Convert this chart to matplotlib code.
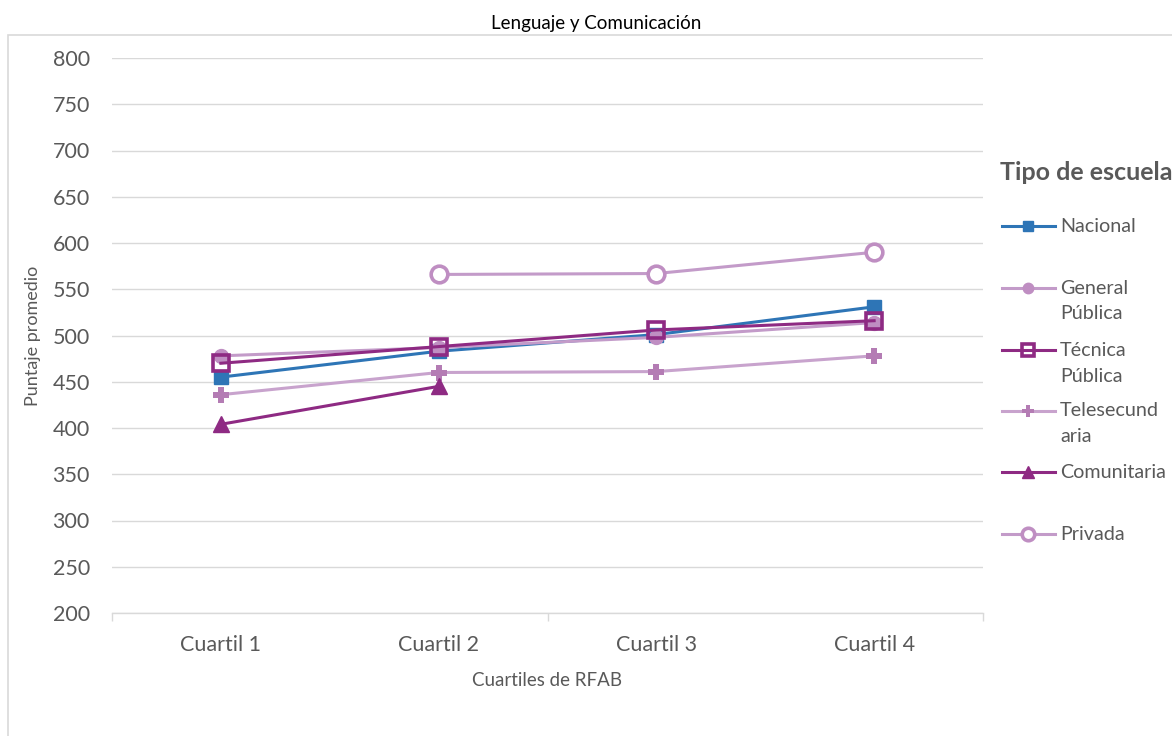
import numpy as np
import matplotlib
matplotlib.use("Agg")
import matplotlib.pyplot as plt
from matplotlib.lines import Line2D
from matplotlib.patches import Rectangle

plt.rcParams['font.family'] = ['Lato', 'DejaVu Sans']

# data
cuartiles = ['Cuartil 1', 'Cuartil 2', 'Cuartil 3', 'Cuartil 4']
nacional = [455, 483, 501, 531]
general_publica = [478, 487, 498, 514]
tecnica_publica = [470, 488, 506, 516]
telesecundaria = [436, 460, 461, 478]
comunitaria = [404, 445, np.nan, np.nan]
privada = [np.nan, 566, 567, 590]

labels = ['Nacional', 'General\nPública', 'Técnica\nPública',
          'Telesecund\naria', 'Comunitaria', 'Privada']
series = [nacional, general_publica, tecnica_publica,
          telesecundaria, comunitaria, privada]

dark = '#8E2A83'
light = '#C39BC9'
styles = [
    dict(color='#2E75B6', marker='s', ms=10, mfc='#2E75B6', mec='#2E75B6', mew=1),
    dict(color=light, marker='o', ms=10, mfc='#BF8EC2', mec='#BF8EC2', mew=1),
    dict(color=dark, marker='s', ms=11, mfc='none', mec=dark, mew=2.6),
    dict(color='#C8A3CD', marker='P', ms=12, mfc='#B47CB4', mec='#B47CB4', mew=0),
    dict(color=dark, marker='^', ms=12, mfc=dark, mec=dark, mew=1),
    dict(color=light, marker='o', ms=12, mfc='white', mec='#BF8EC2', mew=2.6),
]

text_col = '#595959'
grid_col = '#D9D9D9'

fig = plt.figure(figsize=(11.72, 7.36), dpi=100)
fig.patch.set_facecolor('white')
ax = fig.add_axes([112 / 1172, 1 - 613 / 736, (983 - 112) / 1172, (613 - 58) / 736])

x = np.arange(len(cuartiles))
for vals, st in zip(series, styles):
    ax.plot(x, vals, lw=2.2, clip_on=False, **st)

ax.set_xlim(-0.5, 3.5)
ax.set_ylim(200, 800)
ax.set_yticks(np.arange(200, 801, 50))
ax.set_xticks(x)
ax.set_xticklabels(cuartiles)
ax.set_xticks([-0.5, 1.5, 3.5], minor=True)
ax.tick_params(axis='x', which='major', length=0, pad=16, labelsize=15.5, labelcolor=text_col)
ax.tick_params(axis='x', which='minor', length=6, width=1, color=grid_col)
ax.tick_params(axis='y', length=0, pad=16, labelsize=15.5, labelcolor=text_col)
ax.grid(axis='y', color=grid_col, lw=1)
ax.set_axisbelow(True)
for s in ['top', 'right', 'left']:
    ax.spines[s].set_visible(False)
ax.spines['bottom'].set_color(grid_col)
ax.spines['bottom'].set_linewidth(1)

ax.set_xlabel('Cuartiles de RFAB', fontsize=13.5, color=text_col, labelpad=12)
ax.set_ylabel('Puntaje promedio', fontsize=13, color=text_col, labelpad=8)

fig.text(596 / 1172, 1 - 24 / 736, 'Lenguaje y Comunicación', ha='center', va='center',
         fontsize=13.5, color='black')

# chart frame
fig.add_artist(Rectangle((8 / 1172, -0.1), 1.2, (736 - 35) / 736 + 0.1,
                         transform=fig.transFigure, fill=False, ec=grid_col, lw=1.2))

# legend drawn by hand, Excel style
fig.text(1000 / 1172, 1 - 173 / 736, 'Tipo de escuela', ha='left', va='center',
         fontsize=18, fontweight='bold', color=text_col)
leg_y = [226, 288, 350, 411, 472, 534]
for lab, st, yy in zip(labels, styles, leg_y):
    yf = 1 - yy / 736
    fig.add_artist(Line2D([1002 / 1172, 1055 / 1172], [yf, yf], lw=2.2,
                          color=st['color'], transform=fig.transFigure))
    mst = {k: v for k, v in st.items() if k != 'color'}
    mst['ms'] = st['ms'] * 0.75
    fig.add_artist(Line2D([1028 / 1172], [yf], lw=0, transform=fig.transFigure, **mst))
    for i, line in enumerate(lab.split('\n')):
        fig.text(1060 / 1172, 1 - (yy + 26 * i) / 736, line, ha='left', va='center',
                 fontsize=14.2, color=text_col)

fig.savefig('out.png', dpi=100)
